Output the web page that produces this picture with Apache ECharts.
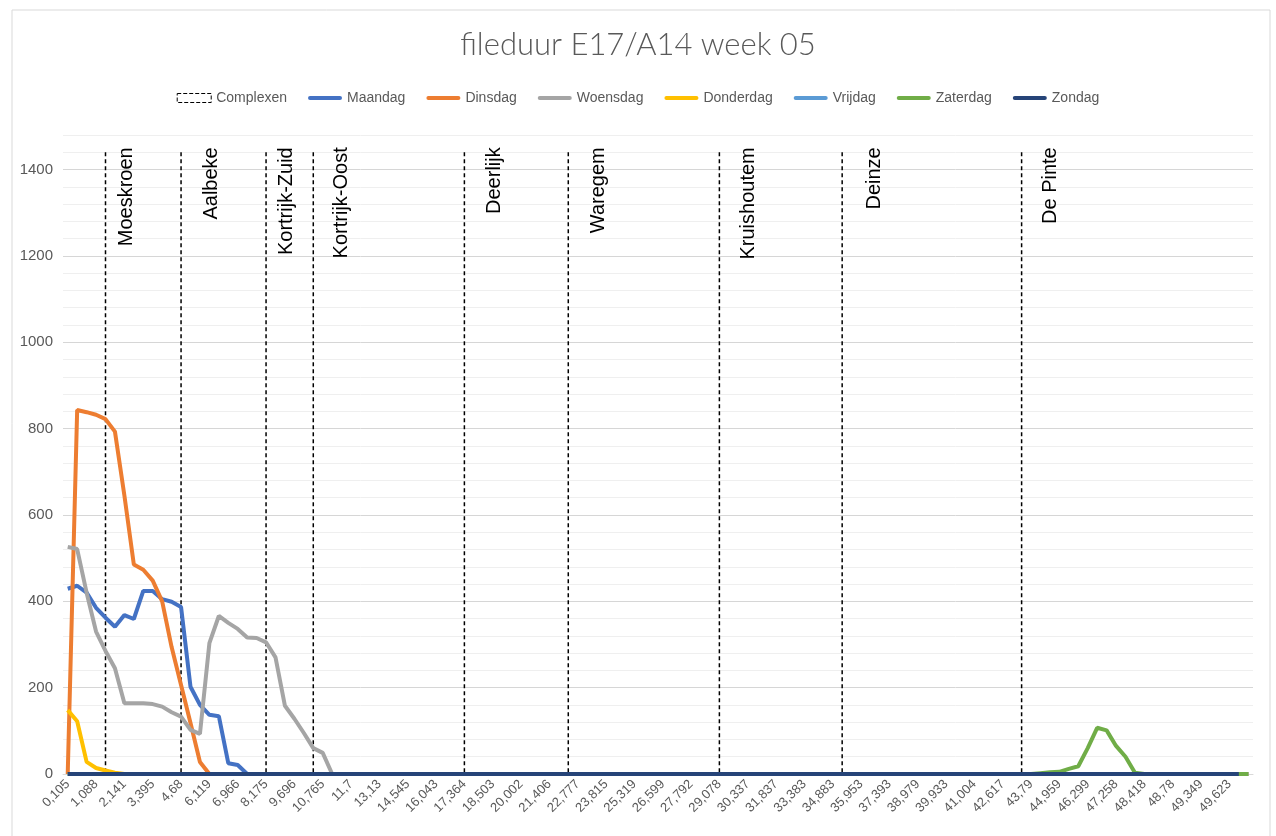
<!DOCTYPE html>
<html>
<head>
<meta charset="utf-8">
<title>fileduur E17/A14 week 05</title>
<script src="https://cdn.jsdelivr.net/npm/echarts@6/dist/echarts.min.js"></script>
<style>
  html, body { margin: 0; padding: 0; background: #fff; }
  #chart { width: 1276px; height: 836px; }
</style>
</head>
<body>
<div id="chart"></div>
<script>
// x-as: km-punten, enkel elke derde categorie krijgt een label
var tickLabels = ['0,105', '1,088', '2,141', '3,395', '4,68', '6,119', '6,966', '8,175', '9,696', '10,765',
  '11,7', '13,13', '14,545', '16,043', '17,364', '18,503', '20,002', '21,406', '22,777', '23,815',
  '25,319', '26,599', '27,792', '29,078', '30,337', '31,837', '33,383', '34,883', '35,953', '37,393',
  '38,979', '39,933', '41,004', '42,617', '43,79', '44,959', '46,299', '47,258', '48,418', '48,78',
  '49,349', '49,623'];
var pointCount = 126;

// complexen (op- en afritten)
var complexIdx = [4, 12, 21, 26, 42, 53, 69, 82, 101];
var complexNames = ['Moeskroen', 'Aalbeke', 'Kortrijk-Zuid', 'Kortrijk-Oost', 'Deerlijk', 'Waregem', 'Kruishoutem', 'Deinze', 'De Pinte'];
var complexTop = 1440;

var maandag = [
  429, 436, 420, 385, 362, 341, 368, 359, 424, 424,
  405, 399, 387, 202, 160, 137, 134, 25, 21, 0,
  0, 0, 0, 0, 0, 0, 0, 0, 0, 0,
  0, 0, 0, 0, 0, 0, 0, 0, 0, 0,
  0, 0, 0, 0, 0, 0, 0, 0, 0, 0,
  0, 0, 0, 0, 0, 0, 0, 0, 0, 0,
  0, 0, 0, 0, 0, 0, 0, 0, 0, 0,
  0, 0, 0, 0, 0, 0, 0, 0, 0, 0,
  0, 0, 0, 0, 0, 0, 0, 0, 0, 0,
  0, 0, 0, 0, 0, 0, 0, 0, 0, 0,
  0, 0, 0, 0, 0, 0, 0, 0, 0, 0,
  0, 0, 0, 0, 0, 0, 0, 0, 0, 0,
  0, 0, 0, 0, 0, 0
];
var dinsdag = [
  0, 843, 838, 832, 822, 793, 645, 485, 473, 448,
  400, 294, 206, 118, 28, 0, 0, 0, 0, 0,
  0, 0, 0, 0, 0, 0, 0, 0, 0, 0,
  0, 0, 0, 0, 0, 0, 0, 0, 0, 0,
  0, 0, 0, 0, 0, 0, 0, 0, 0, 0,
  0, 0, 0, 0, 0, 0, 0, 0, 0, 0,
  0, 0, 0, 0, 0, 0, 0, 0, 0, 0,
  0, 0, 0, 0, 0, 0, 0, 0, 0, 0,
  0, 0, 0, 0, 0, 0, 0, 0, 0, 0,
  0, 0, 0, 0, 0, 0, 0, 0, 0, 0,
  0, 0, 0, 0, 0, 0, 0, 0, 0, 0,
  0, 0, 0, 0, 0, 0, 0, 0, 0, 0,
  0, 0, 0, 0, 0, 0
];
var woensdag = [
  526, 521, 420, 330, 285, 245, 164, 164, 164, 162,
  156, 143, 133, 102, 93, 303, 366, 350, 336, 316,
  315, 305, 270, 158, 128, 95, 60, 49, 0, 0,
  0, 0, 0, 0, 0, 0, 0, 0, 0, 0,
  0, 0, 0, 0, 0, 0, 0, 0, 0, 0,
  0, 0, 0, 0, 0, 0, 0, 0, 0, 0,
  0, 0, 0, 0, 0, 0, 0, 0, 0, 0,
  0, 0, 0, 0, 0, 0, 0, 0, 0, 0,
  0, 0, 0, 0, 0, 0, 0, 0, 0, 0,
  0, 0, 0, 0, 0, 0, 0, 0, 0, 0,
  0, 0, 0, 0, 0, 0, 0, 0, 0, 0,
  0, 0, 0, 0, 0, 0, 0, 0, 0, 0,
  0, 0, 0, 0, 0, 0
];
var donderdag = [
  148, 122, 28, 14, 8, 3, 0, 0, 0, 0,
  0, 0, 0, 0, 0, 0, 0, 0, 0, 0,
  0, 0, 0, 0, 0, 0, 0, 0, 0, 0,
  0, 0, 0, 0, 0, 0, 0, 0, 0, 0,
  0, 0, 0, 0, 0, 0, 0, 0, 0, 0,
  0, 0, 0, 0, 0, 0, 0, 0, 0, 0,
  0, 0, 0, 0, 0, 0, 0, 0, 0, 0,
  0, 0, 0, 0, 0, 0, 0, 0, 0, 0,
  0, 0, 0, 0, 0, 0, 0, 0, 0, 0,
  0, 0, 0, 0, 0, 0, 0, 0, 0, 0,
  0, 0, 0, 0, 0, 0, 0, 0, 0, 0,
  0, 0, 0, 0, 0, 0, 0, 0, 0, 0,
  0, 0, 0, 0, 0, 0
];
var vrijdag = [
  0, 0, 0, 0, 0, 0, 0, 0, 0, 0,
  0, 0, 0, 0, 0, 0, 0, 0, 0, 0,
  0, 0, 0, 0, 0, 0, 0, 0, 0, 0,
  0, 0, 0, 0, 0, 0, 0, 0, 0, 0,
  0, 0, 0, 0, 0, 0, 0, 0, 0, 0,
  0, 0, 0, 0, 0, 0, 0, 0, 0, 0,
  0, 0, 0, 0, 0, 0, 0, 0, 0, 0,
  0, 0, 0, 0, 0, 0, 0, 0, 0, 0,
  0, 0, 0, 0, 0, 0, 0, 0, 0, 0,
  0, 0, 0, 0, 0, 0, 0, 0, 0, 0,
  0, 0, 0, 0, 0, 0, 0, 0, 0, 0,
  0, 0, 0, 0, 0, 0, 0, 0, 0, 0,
  0, 0, 0, 0, 0, 0
];
var zaterdag = [
  0, 0, 0, 0, 0, 0, 0, 0, 0, 0,
  0, 0, 0, 0, 0, 0, 0, 0, 0, 0,
  0, 0, 0, 0, 0, 0, 0, 0, 0, 0,
  0, 0, 0, 0, 0, 0, 0, 0, 0, 0,
  0, 0, 0, 0, 0, 0, 0, 0, 0, 0,
  0, 0, 0, 0, 0, 0, 0, 0, 0, 0,
  0, 0, 0, 0, 0, 0, 0, 0, 0, 0,
  0, 0, 0, 0, 0, 0, 0, 0, 0, 0,
  0, 0, 0, 0, 0, 0, 0, 0, 0, 0,
  0, 0, 0, 0, 0, 0, 0, 0, 0, 0,
  0, 0, 0, 2, 4, 5, 12, 18, 60, 107,
  101, 65, 40, 3, 0, 0, 0, 0, 0, 0,
  0, 0, 0, 0, 0, 0
];
var zondag = [
  0, 0, 0, 0, 0, 0, 0, 0, 0, 0,
  0, 0, 0, 0, 0, 0, 0, 0, 0, 0,
  0, 0, 0, 0, 0, 0, 0, 0, 0, 0,
  0, 0, 0, 0, 0, 0, 0, 0, 0, 0,
  0, 0, 0, 0, 0, 0, 0, 0, 0, 0,
  0, 0, 0, 0, 0, 0, 0, 0, 0, 0,
  0, 0, 0, 0, 0, 0, 0, 0, 0, 0,
  0, 0, 0, 0, 0, 0, 0, 0, 0, 0,
  0, 0, 0, 0, 0, 0, 0, 0, 0, 0,
  0, 0, 0, 0, 0, 0, 0, 0, 0, 0,
  0, 0, 0, 0, 0, 0, 0, 0, 0, 0,
  0, 0, 0, 0, 0, 0, 0, 0, 0, 0,
  0, 0, 0, 0, 0
];

// categorieen: label op elke derde plaats
var categories = [];
for (var i = 0; i < pointCount; i++) {
  categories.push(i % 3 === 0 ? tickLabels[i / 3] : '');
}

// horizontale verschuiving van de complexnamen t.o.v. de stippellijn
var labelDx = [21, 30, 20, 28, 30, 30, 29, 32, 29];

var font = 'Liberation Sans';

function lineSeries(name, data, color) {
  return {
    name: name,
    type: 'line',
    data: data,
    symbol: 'none',
    lineStyle: { width: 4, color: color },
    itemStyle: { color: color },
    animation: false
  };
}

var option = {
  backgroundColor: '#fff',
  title: {
    text: 'fileduur E17/A14 week 05',
    left: 'center',
    top: 24,
    textStyle: { fontFamily: 'Lato', fontWeight: 300, fontSize: 31, color: '#595959' }
  },
  legend: {
    top: 86,
    left: 'center',
    itemWidth: 34,
    itemHeight: 9,
    itemGap: 21,
    icon: 'path://M2,0H32A2,2 0 0 1 32,4H2A2,2 0 0 1 2,0Z',
    textStyle: { fontFamily: font, fontSize: 14, color: '#595959' },
    data: [
      { name: 'Complexen', icon: 'rect', itemStyle: { color: '#fff', borderColor: '#000', borderWidth: 1, borderType: 'dashed' } },
      'Maandag', 'Dinsdag', 'Woensdag', 'Donderdag', 'Vrijdag', 'Zaterdag', 'Zondag'
    ]
  },
  grid: { left: 63, right: 23, top: 135, bottom: 62, containLabel: false },
  xAxis: {
    type: 'category',
    data: categories,
    boundaryGap: true,
    axisTick: { show: false },
    axisLine: { show: true, lineStyle: { color: '#d9d9d9' } },
    axisLabel: { interval: 2, rotate: 45, fontFamily: font, fontSize: 13, color: '#595959', margin: 8 },
    splitLine: { show: false }
  },
  yAxis: {
    type: 'value',
    min: 0,
    max: 1480,
    interval: 40,
    axisLine: { show: false },
    axisTick: { show: false },
    axisLabel: {
      fontFamily: font, fontSize: 15, color: '#595959', margin: 10,
      formatter: function (v) { return (v % 200 === 0 && v <= 1400) ? String(v) : ''; }
    },
    splitLine: { lineStyle: { color: ['#d6d6d6', '#efefef', '#efefef', '#efefef', '#efefef'], width: 1 } }
  },
  series: [
    {
      name: 'Complexen',
      type: 'custom',
      data: complexIdx.map(function (c) { return [c, complexTop]; }),
      encode: { x: 0, y: 1 },
      itemStyle: { color: '#000' },
      animation: false,
      z: 3,
      renderItem: function (params, api) {
        var top = api.coord([api.value(0), api.value(1)]);
        var bottom = api.coord([api.value(0), 0]);
        return {
          type: 'group',
          children: [
            {
              type: 'line',
              shape: { x1: top[0], y1: top[1], x2: bottom[0], y2: bottom[1] },
              style: { stroke: '#000', lineWidth: 1.5, lineDash: [4, 3] }
            },
            {
              type: 'text',
              x: top[0] + labelDx[params.dataIndex],
              y: top[1] - 5,
              rotation: Math.PI / 2,
              style: {
                text: complexNames[params.dataIndex],
                fill: '#000',
                font: '20px "Liberation Sans"',
                align: 'right',
                verticalAlign: 'middle'
              }
            }
          ]
        };
      }
    },
    lineSeries('Maandag', maandag, '#4472C4'),
    lineSeries('Dinsdag', dinsdag, '#ED7D31'),
    lineSeries('Woensdag', woensdag, '#A5A5A5'),
    lineSeries('Donderdag', donderdag, '#FFC000'),
    lineSeries('Vrijdag', vrijdag, '#5B9BD5'),
    lineSeries('Zaterdag', zaterdag, '#70AD47'),
    lineSeries('Zondag', zondag, '#264478')
  ],
  graphic: [
    {
      type: 'rect',
      shape: { x: 12, y: 10, width: 1258, height: 840 },
      style: { fill: 'none', stroke: '#d9d9d9', lineWidth: 1 },
      silent: true
    }
  ]
};

var myChart = echarts.init(document.getElementById('chart'));
myChart.setOption(option);
</script>
</body>
</html>
